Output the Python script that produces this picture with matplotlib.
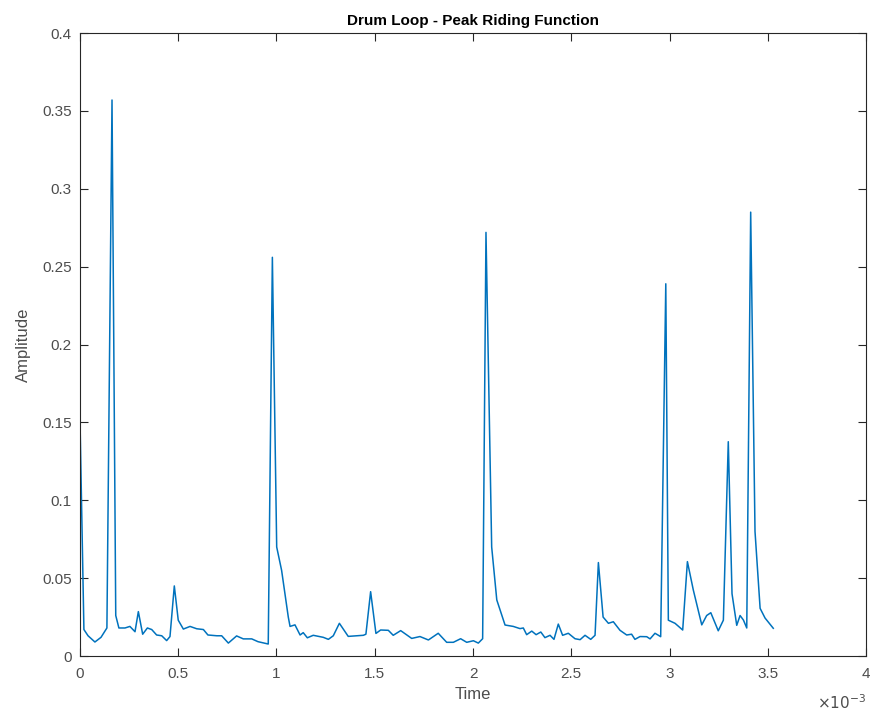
import matplotlib.pyplot as plt
import numpy as np

# time in units of 1e-3 s, amplitude
time_ms = [
    0.000, 0.020, 0.041, 0.076, 0.107, 0.137, 0.163, 0.182, 0.198, 0.229,
    0.254, 0.280, 0.297, 0.319, 0.343, 0.365, 0.390, 0.416, 0.441, 0.458,
    0.480, 0.500, 0.526, 0.560, 0.594, 0.628, 0.651, 0.696, 0.721, 0.755,
    0.797, 0.831, 0.874, 0.906, 0.958, 0.979, 1.001, 1.026, 1.060, 1.069,
    1.094, 1.120, 1.136, 1.157, 1.187, 1.238, 1.264, 1.289, 1.320, 1.365,
    1.442, 1.455, 1.479, 1.506, 1.530, 1.569, 1.594, 1.632, 1.688, 1.730,
    1.773, 1.823, 1.866, 1.900, 1.937, 1.968, 2.002, 2.027, 2.049, 2.066,
    2.095, 2.121, 2.163, 2.205, 2.239, 2.256, 2.273, 2.299, 2.321, 2.345,
    2.366, 2.392, 2.412, 2.434, 2.456, 2.485, 2.519, 2.545, 2.570, 2.599,
    2.621, 2.638, 2.662, 2.689, 2.714, 2.748, 2.782, 2.807, 2.824, 2.850,
    2.884, 2.901, 2.926, 2.941, 2.955, 2.981, 2.994, 3.028, 3.067, 3.091,
    3.121, 3.164, 3.189, 3.210, 3.248, 3.274, 3.299, 3.318, 3.342, 3.359,
    3.376, 3.393, 3.413, 3.435, 3.461, 3.486, 3.528,
]
amplitude = [
    0.152, 0.017, 0.013, 0.009, 0.012, 0.018, 0.357, 0.026, 0.018, 0.018,
    0.019, 0.0156, 0.0285, 0.014, 0.018, 0.017, 0.0135, 0.013, 0.0099, 0.0125,
    0.045, 0.023, 0.0173, 0.019, 0.0175, 0.017, 0.0135, 0.013, 0.013, 0.0083,
    0.0129, 0.011, 0.011, 0.0092, 0.0077, 0.256, 0.070, 0.055, 0.025, 0.019,
    0.020, 0.0135, 0.015, 0.0117, 0.0133, 0.012, 0.0107, 0.013, 0.021, 0.0126,
    0.0133, 0.014, 0.0413, 0.0145, 0.0167, 0.0165, 0.0133, 0.0163, 0.0113, 0.0125,
    0.0103, 0.0146, 0.0088, 0.0088, 0.0111, 0.0088, 0.0098, 0.0083, 0.0111, 0.272,
    0.070, 0.036, 0.0199, 0.019, 0.0176, 0.018, 0.0137, 0.016, 0.0137, 0.0154,
    0.0118, 0.0133, 0.0107, 0.0205, 0.0133, 0.0146, 0.0111, 0.0105, 0.0133, 0.0107,
    0.0133, 0.060, 0.025, 0.021, 0.022, 0.0165, 0.0135, 0.014, 0.0107, 0.0125,
    0.0124, 0.011, 0.0146, 0.0135, 0.0124, 0.239, 0.023, 0.021, 0.0167, 0.0606,
    0.0424, 0.020, 0.026, 0.0278, 0.0162, 0.023, 0.1376, 0.040, 0.0197, 0.026,
    0.0231, 0.018, 0.285, 0.080, 0.0306, 0.0244, 0.0178,
]
x_ticks_ms = [0, 0.5, 1, 1.5, 2, 2.5, 3, 3.5, 4]
x_tick_labels = ["0", "0.5", "1", "1.5", "2", "2.5", "3", "3.5", "4"]
y_ticks = [0, 0.05, 0.1, 0.15, 0.2, 0.25, 0.3, 0.35, 0.4]
y_tick_labels = ["0", "0.05", "0.1", "0.15", "0.2", "0.25", "0.3", "0.35", "0.4"]

plt.rcParams["font.family"] = ["Liberation Sans", "DejaVu Sans"]
dark = "#262626"
grey = "#4d4d4d"

t = np.array(time_ms) * 1e-3

fig = plt.figure(figsize=(8.77, 7.15), dpi=100)
ax = fig.add_axes([0.0912, 0.0825, 0.8963, 0.8713])
ax.plot(t, amplitude, color="#0072BD", linewidth=1.1)

ax.set_xlim(0, 4e-3)
ax.set_ylim(0, 0.4)
ax.set_xticks(np.array(x_ticks_ms) * 1e-3)
ax.set_xticklabels(x_tick_labels)
ax.set_yticks(y_ticks)
ax.set_yticklabels(y_tick_labels)
ax.tick_params(direction="in", length=6, width=0.8, colors=dark, labelsize=11,
               top=True, right=True, labelcolor=grey)
ax.tick_params(axis="x", pad=8)
ax.tick_params(axis="y", pad=6)
for s in ax.spines.values():
    s.set_color(dark)
    s.set_linewidth(0.8)

ax.set_title("Drum Loop - Peak Riding Function", fontsize=11, fontweight="bold",
             color="black", pad=6)
ax.set_xlabel("Time", fontsize=12, color=grey, labelpad=4)
ax.set_ylabel("Amplitude", fontsize=12, color=grey, labelpad=8)
ax.text(1.0, -0.075, r"$\times10^{-3}$", transform=ax.transAxes, ha="right",
        va="center", fontsize=11, color=grey)

fig.savefig("out.png", dpi=100)
